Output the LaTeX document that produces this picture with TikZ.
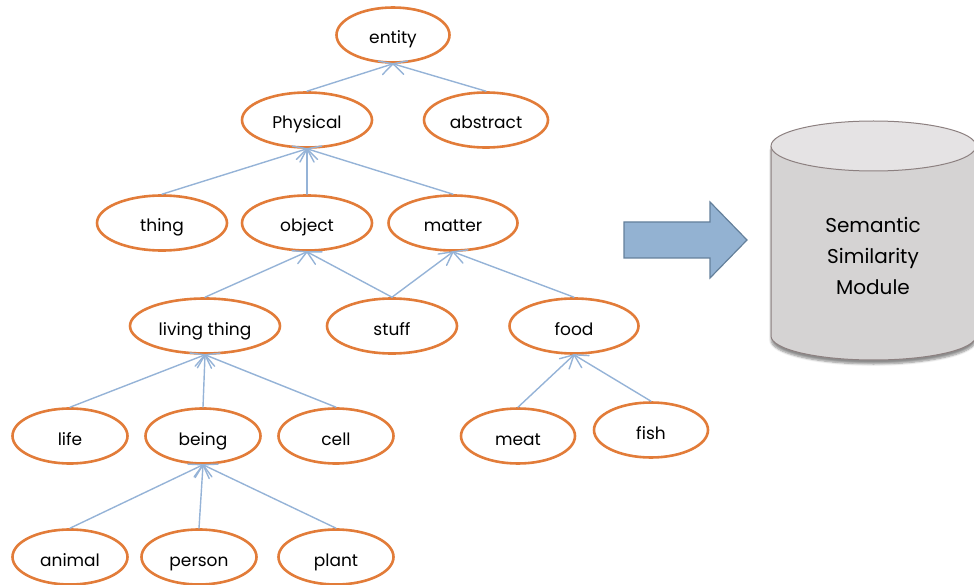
\documentclass[tikz,border=0pt]{standalone}
\usepackage{fontspec}
\setmainfont{Poppins}
\usetikzlibrary{shapes.geometric,calc,shadows.blur}
\definecolor{ellorange}{RGB}{226,124,57}
\definecolor{edgeblue}{RGB}{149,179,215}
\definecolor{arrowfill}{RGB}{147,178,210}
\definecolor{arrowline}{RGB}{100,128,155}
\definecolor{cylbody}{RGB}{213,211,211}
\definecolor{cyltop}{RGB}{229,227,228}
\definecolor{cylline}{RGB}{140,128,128}
\tikzset{
  ell/.style={ellipse, draw=ellorange, line width=2.6pt, fill=white, inner sep=0pt,
    minimum height=55pt, minimum width=115pt, text height=18pt, text depth=0pt,
    font=\fontsize{17}{19}\selectfont},
  isa/.style={draw=edgeblue, line width=1.4pt, line join=round, line cap=round},
}
\newcommand\isaedge[2]{%
  \draw[isa] (#1.north) -- (#2.south);
  \draw[isa] ($(#2.south)!15pt!28:(#1.north)$) -- (#2.south) -- ($(#2.south)!15pt!-28:(#1.north)$);
}
\begin{document}
\begin{tikzpicture}[x=1pt,y=-1pt]
\useasboundingbox (0,0) rectangle (974,585);
% nodes
\node[ell, minimum width=113pt] (entity) at (393,35) {entity};
\node[ell, minimum width=130pt] (physical) at (307,120) {Physical};
\node[ell, minimum width=124pt] (abstract) at (486,120) {abstract};
\node[ell, minimum width=130pt] (thing) at (162,223) {thing};
\node[ell, minimum width=130pt] (object) at (307,223) {object};
\node[ell, minimum width=129pt] (matter) at (453,223) {matter};
\node[ell, minimum width=150pt] (living) at (205,326) {living thing};
\node[ell, minimum width=130pt] (stuff) at (392,326) {stuff};
\node[ell, minimum width=129pt] (food) at (574,326) {food};
\node[ell] (life) at (70,436) {life};
\node[ell] (being) at (203,436) {being};
\node[ell] (cell) at (336,436) {cell};
\node[ell, minimum width=114pt] (meat) at (518,436) {meat};
\node[ell, minimum width=114pt] (fish) at (651,430) {fish};
\node[ell] (animal) at (70,557) {animal};
\node[ell] (person) at (199,557) {person};
\node[ell] (plant) at (336,557) {plant};
% edges (child -> parent)
\isaedge{physical}{entity}
\isaedge{abstract}{entity}
\isaedge{thing}{physical}
\isaedge{object}{physical}
\isaedge{matter}{physical}
\isaedge{living}{object}
\isaedge{stuff}{object}
\isaedge{stuff}{matter}
\isaedge{food}{matter}
\isaedge{life}{living}
\isaedge{being}{living}
\isaedge{cell}{living}
\isaedge{animal}{being}
\isaedge{person}{being}
\isaedge{plant}{being}
\isaedge{meat}{food}
\isaedge{fish}{food}
% big arrow
\draw[fill=arrowfill, draw=arrowline, line width=1.2pt, line join=miter]
  (624,222) -- (710,222) -- (710,202) -- (747,240) -- (710,278) -- (710,258) -- (624,258) -- cycle;
% cylinder
\fill[cylbody, blur shadow={shadow xshift=0pt, shadow yshift=-4pt, shadow blur steps=6, shadow opacity=45}]
  (771,146) -- (771,336) arc[start angle=180, end angle=360, x radius=102.5pt, y radius=24pt] -- (976,146) -- cycle;
\draw[cylline, line width=1pt] (771,146) -- (771,336) arc[start angle=180, end angle=360, x radius=102.5pt, y radius=24pt] -- (976,146);
\draw[cylline, fill=cyltop, line width=1pt] (873.5,146) ellipse[x radius=102.5pt, y radius=25pt];
\node[align=center, font=\fontsize{20}{31}\selectfont] (module) at (873,256) {Semantic\\Similarity\\Module};
\end{tikzpicture}
\end{document}
